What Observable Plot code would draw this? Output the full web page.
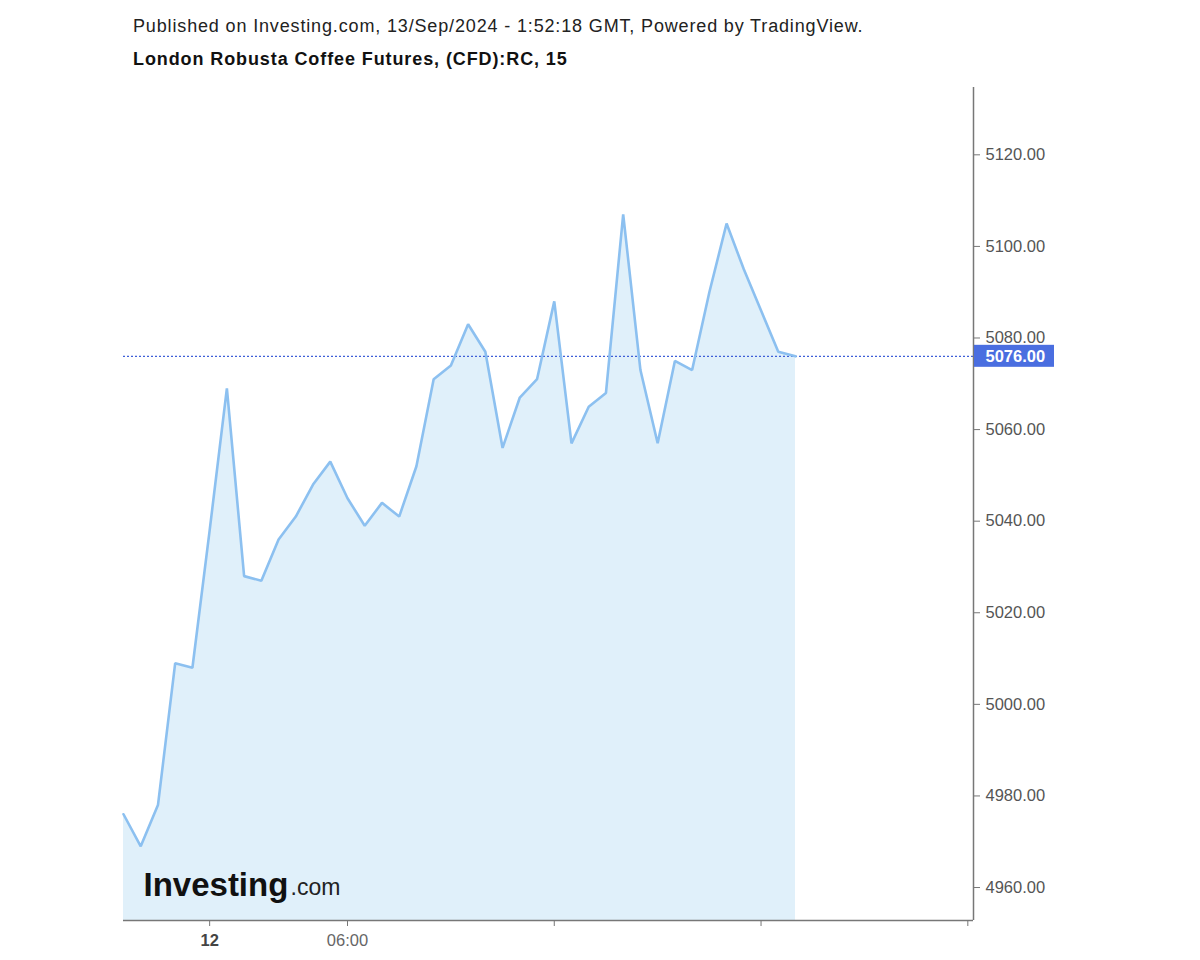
<!DOCTYPE html>
<html>
<head>
<meta charset="utf-8">
<script src="https://cdn.jsdelivr.net/npm/d3@7"></script>
<script src="https://cdn.jsdelivr.net/npm/@observablehq/plot@0.6"></script>
<style>
  html, body { margin: 0; padding: 0; background: #fff; }
  body { width: 1200px; height: 960px; position: relative; overflow: hidden; font-family: "Liberation Sans", Arial, sans-serif; }
  #pub { position: absolute; left: 133px; top: 16px; font-size: 18px; letter-spacing: 0.85px; color: #222; white-space: nowrap; }
  #title { position: absolute; left: 133px; top: 49px; font-size: 18px; letter-spacing: 0.9px; font-weight: bold; color: #111; white-space: nowrap; }
  #chart { position: absolute; left: 0; top: 80px; }
</style>
</head>
<body>
<div id="pub">Published on Investing.com, 13/Sep/2024 - 1:52:18 GMT, Powered by TradingView.</div>
<div id="title">London Robusta Coffee Futures, (CFD):RC, 15</div>
<div id="chart"></div>
<script>
// 15-minute closes, by bar index
const prices = [4976, 4969, 4978, 5009, 5008, 5038, 5069, 5028, 5027, 5036,
                5041, 5048, 5053, 5045, 5039, 5044, 5041, 5052, 5071, 5074,
                5083, 5077, 5056, 5067, 5071, 5088, 5057, 5065, 5068, 5107,
                5073, 5057, 5075, 5073, 5090, 5105, 5095, 5086, 5077, 5076];
const currentPrice = 5076;
const yTicks = [4960, 4980, 5000, 5020, 5040, 5060, 5080, 5100, 5120];
const xTickBars = [5, 13, 25, 37, 49];
const xTickLabels = ["12", "06:00", "", "", ""];
const yMin = 4952.8, yMax = 5134.7;
const xMax = 49.33;

const data = prices.map((p, i) => ({i, p}));
const font = "'Liberation Sans', Arial, sans-serif";

const chart = Plot.plot({
  width: 1200,
  height: 880,
  marginTop: 7,
  marginBottom: 40,
  marginLeft: 123,
  marginRight: 227,
  style: {fontFamily: font, background: "white"},
  x: {domain: [0, xMax], label: null},
  y: {domain: [yMin, yMax], label: null},
  marks: [
    Plot.areaY(data, {x: "i", y1: () => yMin, y2: "p", fill: "#e0f0fa"}),
    Plot.ruleY([currentPrice], {stroke: "#3f5fd8", strokeWidth: 1.2, strokeDasharray: "2,2"}),
    Plot.lineY(data, {x: "i", y: "p", stroke: "#8cc0f0", strokeWidth: 2.6, strokeLinejoin: "miter"}),
    Plot.text(["Investing"], {frameAnchor: "bottom-left", dx: 20, dy: -25, fontSize: 33, fontWeight: "bold", fill: "#111", textAnchor: "start", lineAnchor: "bottom"}),
    Plot.text([".com"], {frameAnchor: "bottom-left", dx: 167, dy: -26, fontSize: 23, fill: "#222", textAnchor: "start", lineAnchor: "bottom"}),
    Plot.ruleX([xMax], {stroke: "#777", strokeWidth: 1.5}),
    Plot.ruleY([yMin], {stroke: "#777", strokeWidth: 1.5}),
    Plot.axisY({anchor: "right", ticks: yTicks, tickFormat: d => d.toFixed(2), tickSize: 6, tickPadding: 6, fontSize: 16.5, fill: "#555", stroke: "#777", label: null}),
    Plot.axisX({anchor: "bottom", ticks: [xTickBars[0]], tickFormat: () => xTickLabels[0], tickSize: 6, tickPadding: 8, fontSize: 16.5, fontWeight: "bold", fill: "#444", stroke: "#777", label: null}),
    Plot.axisX({anchor: "bottom", ticks: xTickBars.slice(1), tickFormat: (d) => xTickLabels[xTickBars.indexOf(d)], tickSize: 6, tickPadding: 8, fontSize: 16.5, fill: "#666", stroke: "#777", label: null}),
    Plot.text([currentPrice], {y: d => d, frameAnchor: "right", dx: 12, textAnchor: "start", text: d => d.toFixed(2), fill: "white", fontWeight: "bold", fontSize: 16.5, className: "pricelabel"})
  ]
});
document.getElementById("chart").appendChild(chart);

// price tag background behind the label
const ys = chart.scale("y");
const xs = chart.scale("x");
const yPos = ys.apply(currentPrice);
const xRight = xs.apply(xMax);
const svg = d3.select(chart);
const lbl = svg.select("g.pricelabel").node();
svg.insert("rect", () => lbl)
  .attr("x", xRight + 1)
  .attr("y", yPos - 11)
  .attr("width", 80)
  .attr("height", 22)
  .attr("fill", "#4a6ee0");
</script>
</body>
</html>
